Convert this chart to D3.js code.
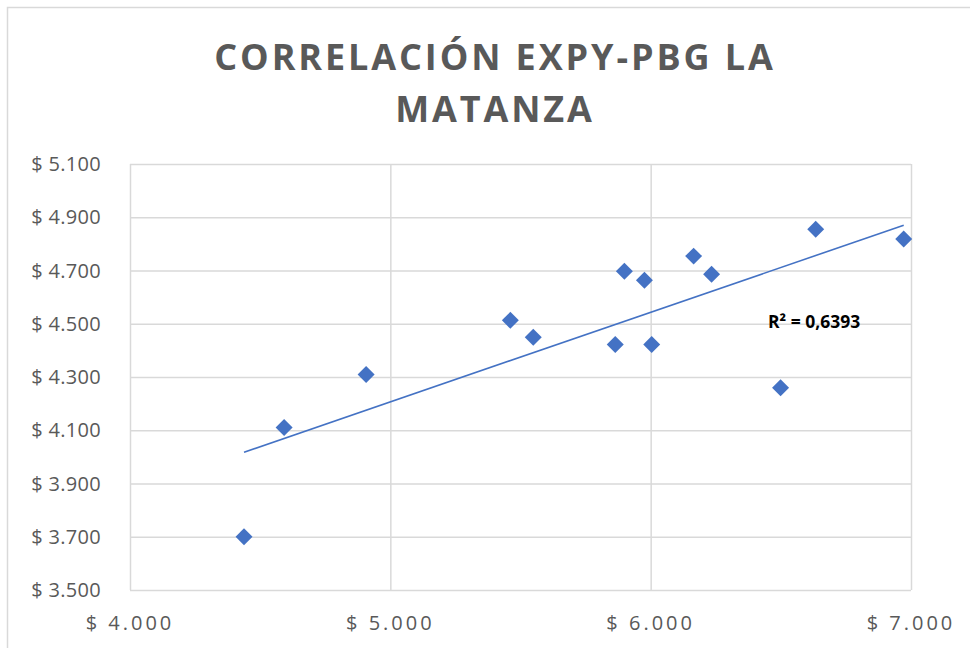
<!DOCTYPE html>
<html><head><meta charset="utf-8">
<script src="https://cdn.jsdelivr.net/npm/d3@7"></script>
<style>body{margin:0;background:#fff}svg{display:block}</style>
</head><body>
<svg id="c" width="970" height="648"></svg>
<script>
const titleLines = ["CORRELACIÓN EXPY-PBG LA", "MATANZA"];
const xValues = [4438, 4592, 4907, 5461, 5549, 5864, 5899, 5976, 6004, 6165, 6234, 6499, 6634, 6972];
const yValues = [3700, 4110, 4309, 4513, 4449, 4422, 4697, 4663, 4422, 4754, 4686, 4260, 4855, 4818];
const xTicks = [4000, 5000, 6000, 7000];
const yTicks = [3500, 3700, 3900, 4100, 4300, 4500, 4700, 4900, 5100];
const r2Label = "R² = 0,6393";

const svg = d3.select("#c");
const W = 970, H = 648;
const m = {left: 130, right: 911, top: 164, bottom: 590};
const gray = "#595959", grid = "#d9d9d9", blue = "#4472C4";

svg.append("rect").attr("x", 7.5).attr("y", 7.5).attr("width", W - 6).attr("height", H).attr("fill", "#fff").attr("stroke", "#d9d9d9").attr("stroke-width", 1.5);

const x = d3.scaleLinear().domain([4000, 7000]).range([m.left, m.right]);
const y = d3.scaleLinear().domain([3500, 5100]).range([m.bottom, m.top]);

// title
svg.append("g").selectAll("text").data(titleLines).join("text")
  .attr("x", 495).attr("y", (d, i) => 70 + i * 52)
  .attr("text-anchor", "middle")
  .attr("font-family", "'Open Sans', sans-serif").attr("font-weight", 700)
  .attr("font-size", 36).attr("letter-spacing", 2.9).attr("fill", gray)
  .text(d => d);

// gridlines
const gx = d3.axisBottom(x).tickValues(xTicks).tickSize(-(m.bottom - m.top)).tickFormat("");
const gy = d3.axisLeft(y).tickValues(yTicks).tickSize(-(m.right - m.left)).tickFormat("");
const gxG = svg.append("g").attr("transform", `translate(0,${m.bottom})`).call(gx);
const gyG = svg.append("g").attr("transform", `translate(${m.left},0)`).call(gy);
[gxG, gyG].forEach(g => { g.select(".domain").remove(); g.selectAll("line").attr("stroke", grid).attr("stroke-width", 1.5); });

// tick labels
const fmt = v => "$ " + d3.format(",")(v).replace(/,/g, ".");
svg.append("g").selectAll("text").data(yTicks).join("text")
  .attr("x", 101).attr("y", d => y(d)).attr("dy", "0.35em")
  .attr("text-anchor", "end").attr("font-family", "'Open Sans', sans-serif")
  .attr("font-size", 20).attr("letter-spacing", 0.3).attr("fill", gray).text(fmt);
svg.append("g").selectAll("text").data(xTicks).join("text")
  .attr("x", d => x(d)).attr("y", 630)
  .attr("text-anchor", "middle").attr("font-family", "'Open Sans', sans-serif")
  .attr("font-size", 20).attr("letter-spacing", 3).attr("fill", gray).text(fmt);

// trendline (least squares)
const n = xValues.length;
const mx = d3.mean(xValues), my = d3.mean(yValues);
let sxy = 0, sxx = 0;
for (let i = 0; i < n; i++) { sxy += (xValues[i] - mx) * (yValues[i] - my); sxx += (xValues[i] - mx) ** 2; }
const b = sxy / sxx, a = my - b * mx;
const x0 = d3.min(xValues), x1 = d3.max(xValues);
svg.append("line").attr("x1", x(x0)).attr("y1", y(a + b * x0)).attr("x2", x(x1)).attr("y2", y(a + b * x1))
  .attr("stroke", blue).attr("stroke-width", 1.6);

// points
svg.append("g").selectAll("path").data(xValues.map((v, i) => [v, yValues[i]])).join("path")
  .attr("d", d3.symbol().type(d3.symbolSquare).size(144)())
  .attr("transform", d => `translate(${x(d[0])},${y(d[1])}) rotate(45)`)
  .attr("fill", blue);

// R2
svg.append("text").attr("x", 768).attr("y", 328).attr("font-family", "'Open Sans', sans-serif")
  .attr("font-weight", 700).attr("font-size", 17.5).attr("fill", "#000").text(r2Label);
</script>
</body></html>
